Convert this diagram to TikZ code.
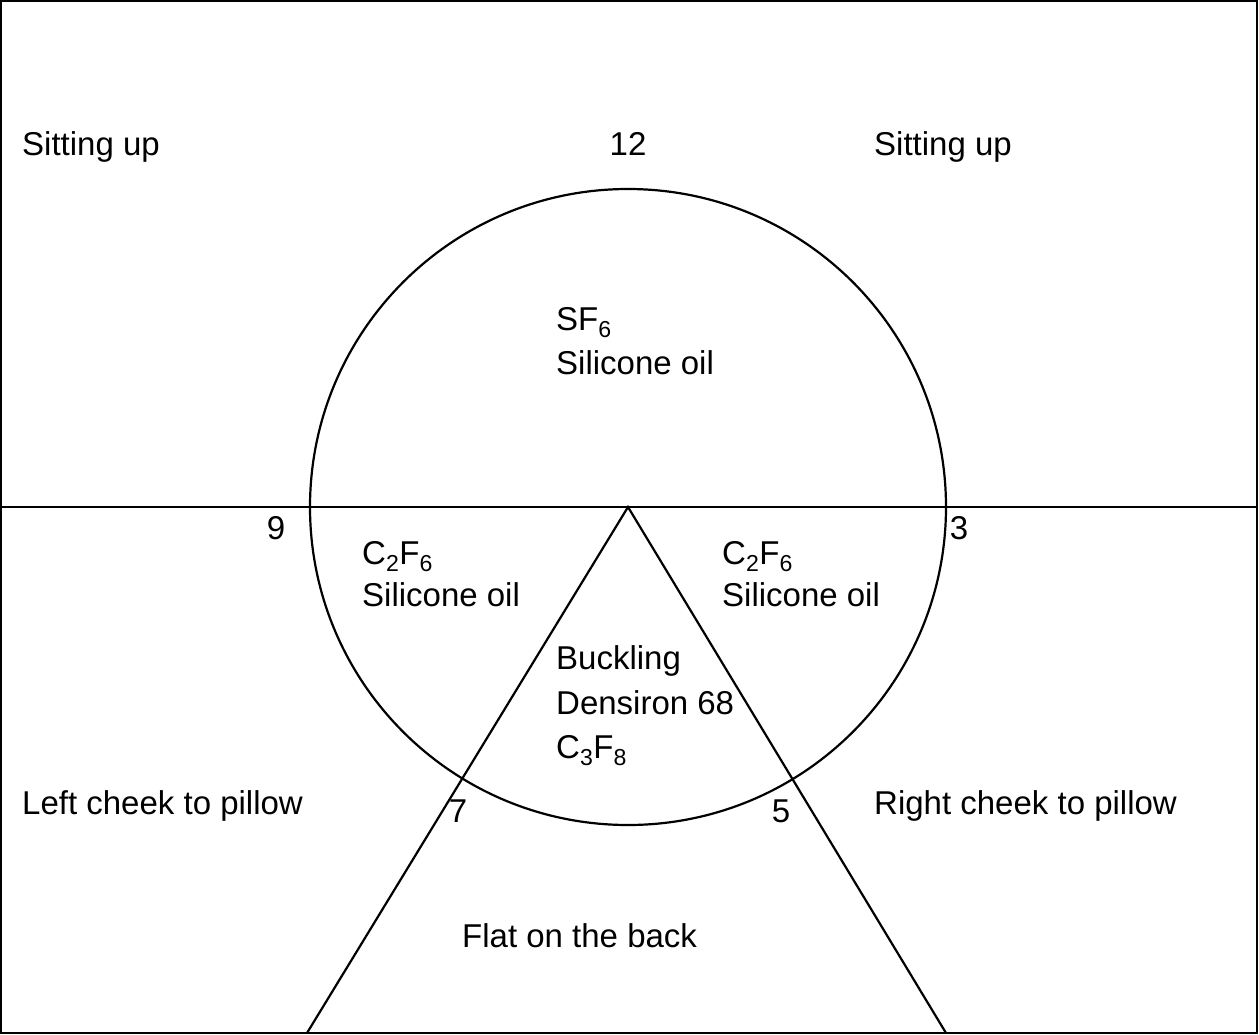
\documentclass[tikz,border=0pt]{standalone}
\usepackage{fontspec}
\setmainfont{Liberation Sans}
\begin{document}
\begin{tikzpicture}[x=1pt,y=-1pt,
  lbl/.style={anchor=base west,inner sep=0pt,font=\fontsize{33}{39}\selectfont},
  num/.style={anchor=base,inner sep=0pt,font=\fontsize{33}{39}\selectfont},
  ln/.style={line width=2.2pt}]
\useasboundingbox (0,0) rectangle (1259,1034);
\draw[ln] (1,1) rectangle (1257,1033);
\coordinate (L) at (1,507);
\coordinate (R) at (1257,507);
\coordinate (A) at (628,507);
\coordinate (BL) at (307,1033);
\coordinate (BR) at (946,1033);
\draw[ln] (L) -- (R);
\draw[ln] (A) circle[radius=318];
\draw[ln] (BL) -- (A) -- (BR);
\node[lbl] (su1) at (22,155) {Sitting up};
\node[num] (n12) at (628,155) {12};
\node[lbl] (su2) at (874,155) {Sitting up};
\node[lbl] (sf6) at (556,330) {SF\textsubscript{6}};
\node[lbl] (so1) at (556,374) {Silicone oil};
\node[num] (n9) at (276,539) {9};
\node[num] (n3) at (959,539) {3};
\node[lbl] (c2a) at (362,564) {C\textsubscript{2}F\textsubscript{6}};
\node[lbl] (so2) at (362,606) {Silicone oil};
\node[lbl] (c2b) at (722,564) {C\textsubscript{2}F\textsubscript{6}};
\node[lbl] (so3) at (722,606) {Silicone oil};
\node[lbl] (bk) at (556,669) {Buckling};
\node[lbl] (dn) at (556,714) {Densiron 68};
\node[lbl] (c3) at (556,758) {C\textsubscript{3}F\textsubscript{8}};
\node[lbl] (lc) at (22,814) {Left cheek to pillow};
\node[num] (n7) at (458,822) {7};
\node[num] (n5) at (781,822) {5};
\node[lbl] (rc) at (874,814) {Right cheek to pillow};
\node[lbl] (fb) at (462,947) {Flat on the back};
\end{tikzpicture}
\end{document}
